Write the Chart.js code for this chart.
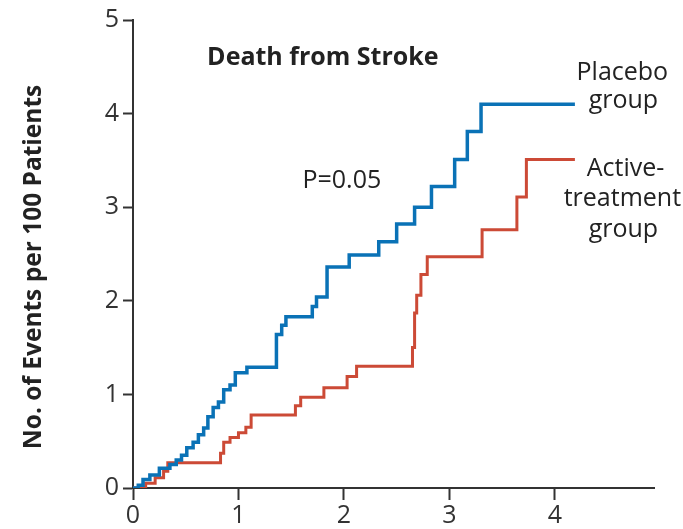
<!DOCTYPE html>
<html>
<head>
<meta charset="utf-8">
<script src="https://cdn.jsdelivr.net/npm/chart.js@4"></script>
<style>
  html, body { margin: 0; padding: 0; background: #fff; }
  #wrap { width: 683px; height: 529px; }
</style>
</head>
<body>
<div id="wrap"><canvas id="chart" width="683" height="529"></canvas></div>
<script>
/* Death from stroke — cumulative events per 100 patients, placebo vs active treatment */

// event times (years) and cumulative rate reached at each step
const placeboT = [0, 0.05, 0.095, 0.16, 0.25, 0.35, 0.41, 0.46, 0.51, 0.57, 0.62, 0.67, 0.71, 0.76, 0.81, 0.86, 0.92, 0.97, 1.08,
  1.36, 1.41, 1.45, 1.70, 1.74, 1.84, 2.05, 2.33, 2.50, 2.67, 2.83, 3.05, 3.17, 3.30, 4.19];
const placeboRate = [0, 0.03, 0.09, 0.14, 0.21, 0.25, 0.30, 0.35, 0.43, 0.49, 0.57, 0.64, 0.76, 0.86, 0.92, 1.05, 1.10, 1.23, 1.29,
  1.64, 1.74, 1.83, 1.94, 2.04, 2.36, 2.49, 2.63, 2.82, 3.00, 3.22, 3.51, 3.81, 4.10, 4.10];

const activeT = [0, 0.12, 0.21, 0.29, 0.33, 0.83, 0.86, 0.92, 1.00, 1.07, 1.12, 1.54, 1.59, 1.81, 2.03, 2.12,
  2.65, 2.67, 2.69, 2.73, 2.79, 3.31, 3.64, 3.73, 4.19];
const activeRate = [0, 0.05, 0.11, 0.18, 0.27, 0.37, 0.49, 0.54, 0.59, 0.65, 0.78, 0.88, 0.97, 1.07, 1.19, 1.30,
  1.50, 1.87, 2.06, 2.28, 2.47, 2.76, 3.11, 3.51, 3.51];

const yTicks = [0, 1, 2, 3, 4, 5];
const xTicks = [0, 1, 2, 3, 4];

const BLUE = "#0a72b6";
const RED = "#cc4a36";
const INK = "#333333";

const toPoints = (ts, ys) => ts.map((t, i) => ({ x: t, y: ys[i] }));

// text placed in data coordinates (alphabetic baseline): [text, x, y, font]
const LABEL_FONT = "25px 'Open Sans'";
const notes = [
  ["Death from Stroke", 1.80, 4.52, "bold 25px 'Open Sans'"],
  ["P=0.05", 1.98, 3.21, LABEL_FONT],
  ["Placebo", 4.64, 4.36, LABEL_FONT],
  ["group", 4.65, 4.06, LABEL_FONT],
  ["Active-", 4.67, 3.33, LABEL_FONT],
  ["treatment", 4.64, 3.01, LABEL_FONT],
  ["group", 4.65, 2.68, LABEL_FONT],
];

const notesPlugin = {
  id: "notes",
  afterDraw(chart) {
    const { ctx, scales } = chart;
    ctx.save();
    ctx.fillStyle = "#222";
    ctx.textAlign = "center";
    ctx.textBaseline = "alphabetic";
    notes.forEach(([txt, x, y, font]) => {
      ctx.font = font;
      ctx.fillText(txt, scales.x.getPixelForValue(x), scales.y.getPixelForValue(y));
    });
    // vertical axis title
    ctx.translate(41, (chart.chartArea.top + chart.chartArea.bottom) / 2 + 13);
    ctx.rotate(-Math.PI / 2);
    ctx.font = "bold 24.5px 'Open Sans'";
    ctx.fillText("No. of Events per 100 Patients", 0, 0);
    ctx.restore();
  },
};

new Chart(document.getElementById("chart"), {
  type: "line",
  data: {
    datasets: [
      { label: "Placebo group", data: toPoints(placeboT, placeboRate), borderColor: BLUE, borderWidth: 3.5 },
      { label: "Active-treatment group", data: toPoints(activeT, activeRate), borderColor: RED, borderWidth: 3 },
    ],
  },
  options: {
    responsive: false,
    animation: false,
    layout: { padding: { top: 20, right: 29, left: 0, bottom: 0 } },
    elements: { point: { radius: 0 }, line: { stepped: true, fill: false, borderCapStyle: "butt" } },
    plugins: { legend: { display: false }, tooltip: { enabled: false } },
    scales: {
      x: {
        type: "linear",
        min: 0,
        max: 4.94,
        afterFit: (s) => { s.height = 41; },
        afterBuildTicks: (s) => { s.ticks = xTicks.map((v) => ({ value: v })); },
        grid: { drawOnChartArea: false, tickLength: 12, tickWidth: 2, color: INK },
        border: { color: INK, width: 2 },
        ticks: { color: INK, padding: 1, font: { family: "'Open Sans'", size: 25 } },
      },
      y: {
        min: 0,
        max: 5,
        afterFit: (s) => { s.width = 133; },
        afterBuildTicks: (s) => { s.ticks = yTicks.map((v) => ({ value: v })); },
        grid: { drawOnChartArea: false, tickLength: 10, tickWidth: 2, color: INK },
        border: { color: INK, width: 2 },
        ticks: { color: INK, padding: 4, font: { family: "'Open Sans'", size: 25 } },
      },
    },
  },
  plugins: [notesPlugin],
});
</script>
</body>
</html>
